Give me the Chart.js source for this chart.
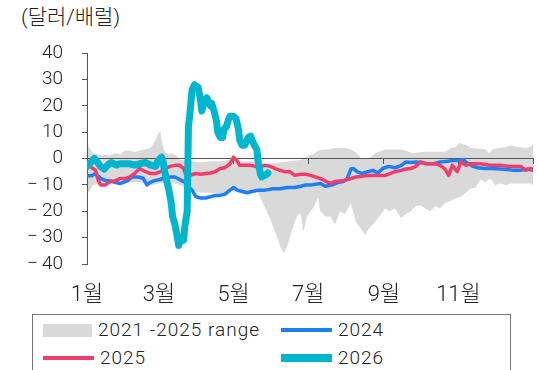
<!DOCTYPE html>
<html lang="ko">
<head>
<meta charset="utf-8">
<script src="https://cdn.jsdelivr.net/npm/chart.js@4.4.1/dist/chart.umd.min.js"></script>
<style>
  html, body { margin: 0; padding: 0; background: #fff; }
  body { width: 538px; height: 370px; position: relative; overflow: hidden;
         font-family: Roboto, "Noto Sans CJK KR", sans-serif; font-weight: 300; color: #222; }
  #unit { position: absolute; left: 21px; top: 4px; font-size: 21px; line-height: 26px; }
  #wrap { position: absolute; left: 0; top: 0; width: 538px; height: 310px; }
  #legend { position: absolute; left: 32px; top: 314px; width: 479px; height: 70px;
            border: 1px solid #777; box-sizing: border-box; }
  .item { position: absolute; display: flex; align-items: center; height: 24px;
          font-size: 19px; line-height: 24px; letter-spacing: 1px; }
  .swatch { display: inline-block; margin-right: 6px; }
</style>
</head>
<body>
<div id="unit">(달러/배럴)</div>
<div id="wrap"><canvas id="chart"></canvas></div>
<div id="legend"></div>
<script>
// x values are days since 1 January
const monthDays = [0, 59, 120, 181, 243, 304];
const monthLabels = ['1월', '3월', '5월', '7월', '9월', '11월'];
const yearEnd = 365;

// 2021-2025 band, upper and lower edges
const rangeHighDays = [0, 2, 5, 11, 19, 23, 27, 31, 35, 39, 43, 48, 52, 56, 58, 60, 61, 63, 66, 70,
  73, 76, 84, 93, 101, 109, 117, 125, 134, 142, 150, 158, 166, 175, 179, 181, 185, 189, 196, 203,
  211, 216, 221, 224, 228, 232, 236, 244, 257, 261, 266, 277, 293, 298, 302, 305, 307, 311, 314,
  326, 329, 332, 343, 347, 351, 359, 363, 365];
const rangeHigh = [5.7, 4, 2, 1.5, 1.2, 2, 1.5, 3, 3, 2.5, 3, 3.5, 4, 7, 9, 10.6, 7, 3, 1.5, 2,
  1, -0.5, -1, -1.5, -1, -1, -0.5, -1, -1, -1.5, -2, -1.5, -1, -0.5, 0, 1, 1.5, 3, 3.4, 4,
  4, 3.4, 2, 0, 0, 0.5, 2, 3.4, 3.4, 3, 2, 2.6, 2.6, 4, 4.5, 6, 5.5, 5, 4,
  3.5, 2, 3.5, 4.5, 5, 4.5, 4, 4.5, 5.7];
const rangeLowDays = [0, 2, 5, 11, 19, 27, 35, 43, 52, 60, 68, 76, 84, 93, 101, 109, 117, 125, 134,
  140, 143, 147, 150, 154, 158, 161, 164, 166, 170, 173, 175, 177, 180, 183, 186, 189, 191, 195,
  199, 203, 207, 211, 216, 220, 224, 228, 230, 234, 240, 244, 248, 252, 257, 261, 265, 269, 273,
  277, 281, 285, 289, 293, 298, 302, 306, 310, 314, 318, 322, 326, 330, 334, 338, 343, 347, 355,
  363, 365];
const rangeLow = [-13, -12.5, -10, -9.5, -9.5, -10, -9, -9, -10, -9.5, -9, -10, -12, -13, -13, -13.5, -12, -13, -13,
  -13, -16, -20, -23, -28, -33, -36, -33, -30, -24, -21, -21, -28, -22, -20, -18, -15, -20, -22,
  -22, -25, -20, -21, -17, -24, -26.5, -29, -27, -25, -21.5, -19, -20, -19, -22.7, -21, -20, -18, -17.8,
  -19, -20, -18, -19, -17, -16, -15, -14.4, -13, -11.4, -11, -8, -9, -7.6, -10, -9.5, -10, -9.5, -9.5,
  -9.5, -10];

const days2024 = [0, 4, 7, 11, 15, 19, 23, 27, 33, 37, 42, 46, 49, 52, 56, 60, 64, 68, 72, 76, 80,
  83, 86, 89, 93, 97, 101, 105, 109, 113, 117, 120, 123, 127, 131, 135, 140, 146, 152, 158, 164,
  170, 175, 179, 184, 191, 195, 201, 206, 210, 213, 216, 218, 221, 225, 230, 234, 238, 242, 247,
  252, 257, 261, 265, 269, 273, 279, 284, 289, 295, 299, 304, 308, 312, 316, 320, 326, 332, 338,
  344, 349, 355, 361, 365];
const values2024 = [-6.5, -6.5, -5.7, -7.5, -8.3, -8.5, -9, -9.5, -8.5, -7, -7, -7.5, -10, -9, -8.3, -8, -7, -7, -7, -8, -9,
  -10.5, -12, -14.4, -15, -15, -14.5, -14, -14, -13.5, -12, -11, -12, -12.5, -13, -12.5, -12, -12, -11.5, -11.5, -11,
  -11, -10.5, -10, -10, -9.5, -10.5, -10, -9, -8.7, -7.5, -4, -3.8, -5, -5.7, -5, -4.5, -5.5, -3.8, -3,
  -3.5, -2.7, -1.3, -1.5, -1.3, -1.5, -2, -2, -1.3, -1, -0.8, -0.8, -0.5, -2, -3, -3.5, -3.8, -3.8, -4,
  -4.2, -4.5, -4.5, -4, -4.5];

const days2025 = [0, 4, 7, 9, 11, 15, 19, 23, 27, 31, 35, 39, 43, 48, 52, 56, 60, 64, 68, 72, 76,
  79, 81, 84, 89, 93, 97, 101, 105, 109, 113, 117, 120, 123, 125, 130, 134, 138, 142, 146, 150,
  154, 158, 162, 166, 170, 175, 179, 183, 187, 191, 195, 199, 203, 207, 211, 216, 220, 224, 228,
  232, 239, 244, 248, 252, 257, 261, 265, 269, 273, 277, 281, 285, 289, 293, 296, 299, 303, 306,
  310, 314, 318, 322, 326, 330, 334, 338, 343, 347, 351, 355, 359, 363, 365];
const values2025 = [-2.6, -3.5, -4.5, -8, -10, -10, -8.7, -8.5, -7.6, -7.6, -7, -5.7, -3.8, -5, -5.7, -5.7, -5, -3.8, -3, -2.6, -2.6,
  -3.8, -6.4, -6.4, -5.7, -6, -5.7, -5.5, -5, -3.8, -3.5, -2, 0.5, -1, -2.6, -2.6, -2.6, -3, -3, -2.6, -3,
  -3.8, -4.5, -5, -5, -6.4, -6, -6, -6.4, -7, -7.6, -8.5, -9.5, -8.7, -8.5, -8.3, -7.6, -7, -6.8, -6.5,
  -6.4, -6.4, -6.4, -5.7, -5, -4.5, -4, -3.8, -3, -1.3, -2, -2, -2, -2.6, -4, -6.4, -2.6, -5, -1.3,
  -2.6, -2, -2, -2, -2.3, -2.6, -2.6, -2.6, -2.8, -3, -3, -3, -4.5, -3.8, -4];

const days2026 = [0, 2, 6, 8, 11, 14, 17, 20, 24, 27, 31, 35, 39, 43, 48, 52, 56, 58, 61, 62, 64,
  66, 67, 69, 70, 72, 74, 75, 77, 79, 80, 82, 83, 84, 86, 88, 89, 91, 93, 94, 96, 98, 99, 101,
  102, 104, 106, 107, 109, 111, 112, 114, 116, 117, 119, 120, 122, 124, 125, 127, 129, 130, 132,
  134, 135, 137, 139, 140, 142, 143, 147, 148];
const values2026 = [-3, -2, 0, -1, -3, -4, -2.5, -1.5, -2.5, -2, -2, -2, -2.5, -2, -1.5, -2.5, -3, -1, 0.5, -0.5, -6,
  -10, -12, -17, -22, -25, -30, -33, -30, -31, -26, -20, 12, 16, 26, 28, 27.5, 27, 22, 18, 22, 23, 22, 20,
  21, 18, 14, 10, 8, 8, 11, 12, 15, 16, 16, 16, 15, 11, 7, 5, 5, 6, 8,
  8.5, 7, 5, 3.5, -1, -6, -7, -6, -5.5];

const pts = (xs, ys) => xs.map((x, i) => ({ x: x, y: ys[i] }));

const GRAY = '#d9d9d9';
const BLUE = '#1e7ff0';
const PINK = '#ee3e6c';
const TEAL = '#00b6cf';
const AXIS = '#555';
const TEXT = '#222';
const FONT = 'Roboto, "Noto Sans CJK KR", sans-serif';

const line = (label, data, color, width, order) => ({
  label: label, data: data, borderColor: color, backgroundColor: color,
  borderWidth: width, pointRadius: 0, tension: 0, fill: false,
  borderJoinStyle: 'round', borderCapStyle: 'round', order: order,
  legendSwatch: { kind: 'line', size: width + 0.5 }
});

const chart = new Chart(document.getElementById('chart'), {
  type: 'line',
  data: {
    datasets: [
      {
        label: '2021 -2025 range', data: pts(rangeHighDays, rangeHigh),
        borderWidth: 0, pointRadius: 0, backgroundColor: GRAY, borderColor: GRAY,
        fill: 1, order: 5, legendSwatch: { kind: 'box' }
      },
      {
        label: 'low', data: pts(rangeLowDays, rangeLow),
        borderWidth: 0, pointRadius: 0, backgroundColor: GRAY, borderColor: GRAY,
        fill: false, order: 6, hideInLegend: true
      },
      line('2024', pts(days2024, values2024), BLUE, 3.5, 3),
      line('2025', pts(days2025, values2025), PINK, 3.5, 2),
      line('2026', pts(days2026, values2026), TEAL, 7, 1)
    ]
  },
  options: {
    responsive: true,
    maintainAspectRatio: false,
    animation: false,
    layout: { padding: { left: 0, right: 5, top: 53, bottom: 0 } },
    plugins: {
      legend: { display: false },
      tooltip: { enabled: false },
      filler: { drawTime: 'beforeDraw' }
    },
    scales: {
      x: {
        type: 'linear', min: 0, max: yearEnd,
        grid: { display: false }, border: { display: false },
        afterBuildTicks: (s) => { s.ticks = monthDays.map(v => ({ value: v })); },
        afterFit: (s) => { s.height = 46; },
        ticks: {
          padding: 10, color: TEXT, maxRotation: 0, autoSkip: false,
          font: { family: FONT, size: 22, weight: 300 },
          callback: (v) => monthLabels[monthDays.indexOf(v)]
        }
      },
      // axis line drawn at zero with short ticks below it
      x0: {
        type: 'linear', min: 0, max: yearEnd, position: { y: 0 },
        afterBuildTicks: (s) => { s.ticks = monthDays.concat([yearEnd]).map(v => ({ value: v })); },
        grid: { drawOnChartArea: false, drawTicks: true, tickLength: 5, color: AXIS },
        border: { display: true, color: AXIS, width: 1 },
        ticks: { display: false }
      },
      y: {
        min: -40, max: 40,
        afterFit: (s) => { s.width = 87; },
        grid: { drawOnChartArea: false, drawTicks: true, tickLength: 5, color: AXIS },
        border: { display: true, color: AXIS, width: 1 },
        ticks: {
          stepSize: 10, padding: 19, color: TEXT,
          font: { family: FONT, size: 19, weight: 300 },
          callback: (v) => v < 0 ? '\u2212\u2009' + Math.abs(v) : String(v)
        }
      }
    }
  }
});

// legend laid out in two columns beneath the chart
const legendBox = document.getElementById('legend');
const slots = [{ left: 10, top: 3 }, { left: 248, top: 3 }, { left: 10, top: 31 }, { left: 248, top: 31 }];
chart.data.datasets.filter(d => !d.hideInLegend).forEach((d, i) => {
  const item = document.createElement('div');
  item.className = 'item';
  item.style.left = slots[i].left + 'px';
  item.style.top = slots[i].top + 'px';
  const sw = document.createElement('span');
  sw.className = 'swatch';
  sw.style.background = d.backgroundColor;
  if (d.legendSwatch.kind === 'box') {
    sw.style.width = '49px'; sw.style.height = '13px';
  } else {
    sw.style.width = '51px'; sw.style.height = d.legendSwatch.size + 'px';
  }
  item.appendChild(sw);
  item.appendChild(document.createTextNode(d.label));
  legendBox.appendChild(item);
});
</script>
</body>
</html>
